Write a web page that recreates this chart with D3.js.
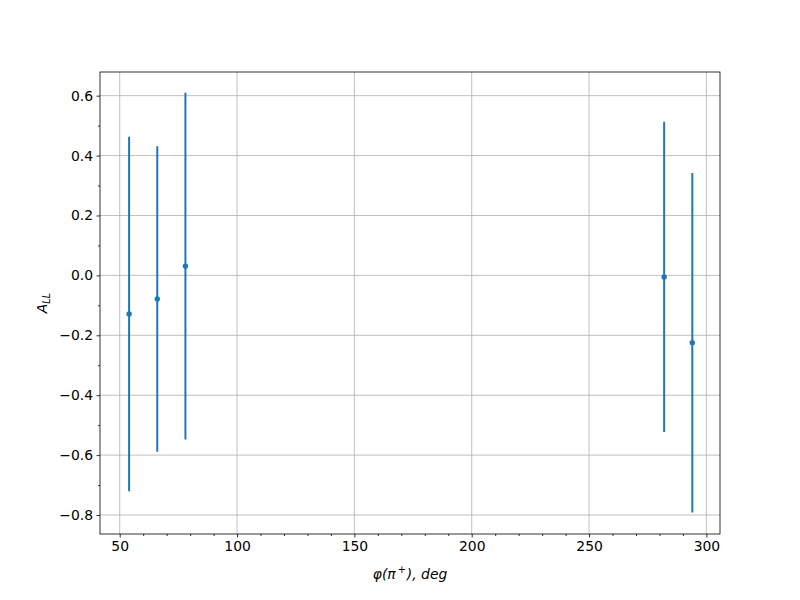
<!DOCTYPE html>
<html><head><meta charset="utf-8">
<script src="https://cdn.jsdelivr.net/npm/d3@7"></script>
<style>body{margin:0;background:#fff}svg{font-family:"DejaVu Sans",sans-serif}</style>
</head><body>
<svg id="c" width="800" height="600"></svg>
<script>
const phi = [54, 66, 78, 282, 294];
const all = [-0.129, -0.079, 0.031, -0.005, -0.225];
const err = [0.592, 0.51, 0.579, 0.518, 0.567];
const xTicks = [50, 100, 150, 200, 250, 300];
const yTicks = [-0.8, -0.6, -0.4, -0.2, 0.0, 0.2, 0.4, 0.6];

const svg = d3.select("#c");
const L = 100, R = 720, T = 72, B = 534;
const x = d3.scaleLinear().domain([41.6, 305.8]).range([L, R]);
const y = d3.scaleLinear().domain([-0.8634, 0.679]).range([B, T]);
const color = "#1f77b4";
const fs = 13.9;

// grid
const g = svg.append("g");
g.selectAll(".gx").data(xTicks).join("line")
  .attr("x1", d => x(d)).attr("x2", d => x(d)).attr("y1", T).attr("y2", B)
  .attr("stroke", "#b0b0b0").attr("stroke-width", 0.8);
g.selectAll(".gy").data(yTicks).join("line")
  .attr("y1", d => y(d)).attr("y2", d => y(d)).attr("x1", L).attr("x2", R)
  .attr("stroke", "#b0b0b0").attr("stroke-width", 0.8);

// error bars
svg.append("g").selectAll("line").data(phi).join("line")
  .attr("x1", (d) => x(d)).attr("x2", d => x(d))
  .attr("y1", (d, i) => y(all[i] - err[i])).attr("y2", (d, i) => y(all[i] + err[i]))
  .attr("stroke", color).attr("stroke-width", 2);
svg.append("g").selectAll("circle").data(phi).join("circle")
  .attr("cx", d => x(d)).attr("cy", (d, i) => y(all[i])).attr("r", 2.7)
  .attr("fill", color);

// axes
const xMinor = d3.range(50, 306, 10).filter(v => v % 50 !== 0);
const yMinor = d3.range(-8, 7, 1).map(v => v / 10).filter(v => Math.abs(Math.round(v * 10)) % 2 === 1);
const xa = svg.append("g").attr("transform", `translate(0,${B})`)
  .call(d3.axisBottom(x).tickValues(xTicks).tickFormat(d3.format("d")).tickSize(3.5).tickPadding(3.5));
const xm = svg.append("g").attr("transform", `translate(0,${B})`)
  .call(d3.axisBottom(x).tickValues(xMinor).tickFormat("").tickSize(2));
const ya = svg.append("g").attr("transform", `translate(${L},0)`)
  .call(d3.axisLeft(y).tickValues(yTicks).tickFormat(d => d3.format(".1f")(d).replace("-", "\u2212")).tickSize(3.5).tickPadding(3.5));
const ym = svg.append("g").attr("transform", `translate(${L},0)`)
  .call(d3.axisLeft(y).tickValues(yMinor).tickFormat("").tickSize(2));
[xa, xm, ya, ym].forEach(a => {
  a.select(".domain").remove();
  a.selectAll("line").attr("stroke", "#000").attr("stroke-width", 0.8);
  a.selectAll("text").attr("font-size", fs).attr("fill", "#000").attr("font-family", "DejaVu Sans");
});
svg.append("rect").attr("x", L).attr("y", T).attr("width", R - L).attr("height", B - T)
  .attr("fill", "none").attr("stroke", "#000").attr("stroke-width", 0.8);

// labels
const xl = svg.append("text").attr("x", (L + R) / 2).attr("y", 579).attr("text-anchor", "middle")
  .attr("font-size", fs).attr("font-style", "italic");
xl.append("tspan").text("φ(π");
xl.append("tspan").attr("font-size", fs * 0.7).attr("dy", -6).attr("font-style", "normal").attr("dx", 2).text("+");
xl.append("tspan").attr("dy", 6).attr("dx", 1).text("), deg");

const yl = svg.append("text").attr("transform", `translate(47,${(T + B) / 2}) rotate(-90)`)
  .attr("text-anchor", "middle").attr("font-size", fs).attr("font-style", "italic");
yl.append("tspan").text("A");
yl.append("tspan").attr("font-size", fs * 0.7).attr("dy", 3).text("LL");
</script>
</body></html>
